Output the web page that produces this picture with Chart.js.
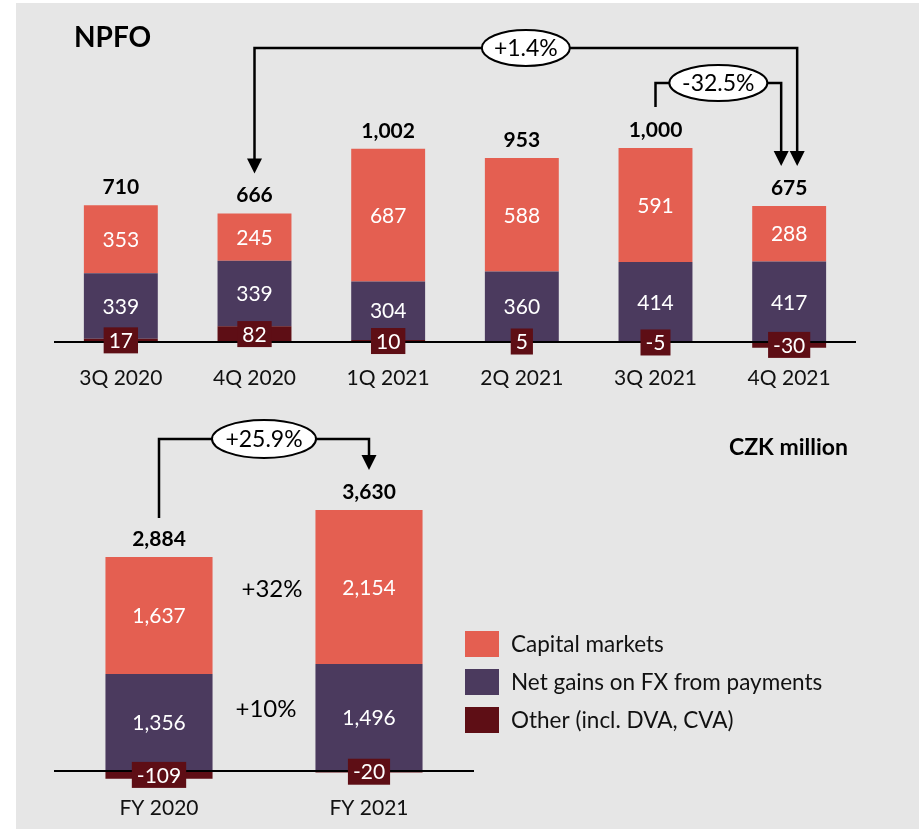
<!DOCTYPE html>
<html>
<head>
<meta charset="utf-8">
<script src="https://cdn.jsdelivr.net/npm/chart.js@4.4.1/dist/chart.umd.min.js"></script>
<style>
  body { margin: 0; background: #ffffff; }
  #wrap { position: relative; width: 920px; height: 829px; }
  #panel { position: absolute; left: 16px; top: 3px; width: 903px; height: 826px; background: #e6e6e6; }
  canvas { position: absolute; left: 0; }
  #quarterChart { top: 0; }
  #yearChart { top: 400px; }
</style>
</head>
<body>
<div id="wrap">
  <div id="panel"></div>
  <canvas id="quarterChart" width="920" height="400"></canvas>
  <canvas id="yearChart" width="920" height="429"></canvas>
</div>
<script>
// données
const quarterLabels = ["3Q 2020", "4Q 2020", "1Q 2021", "2Q 2021", "3Q 2021", "4Q 2021"];
const quarterCapital = [353, 245, 687, 588, 591, 288];
const quarterFx = [339, 339, 304, 360, 414, 417];
const quarterOther = [17, 82, 10, 5, -5, -30];
const quarterTotals = [710, 666, 1002, 953, 1000, 675];
const quarterChanges = ["+1.4%", "-32.5%"];

const yearLabels = ["FY 2020", "FY 2021"];
const yearCapital = [1637, 2154];
const yearFx = [1356, 1496];
const yearOther = [-109, -20];
const yearTotals = [2884, 3630];
const yearChange = "+25.9%";
const yearSegmentChanges = ["+32%", "+10%"];

const seriesNames = ["Other (incl. DVA, CVA)", "Net gains on FX from payments", "Capital markets"];
const seriesColors = ["#5e0e15", "#4b3a5e", "#e45f51"];

const FONT = "Lato, 'Open Sans', sans-serif";

function fmt(v) {
    return v.toLocaleString("en-US");
}

function buildDatasets(other, fx, capital) {
    return [other, fx, capital].map((values, i) => ({
        label: seriesNames[i],
        data: values,
        backgroundColor: seriesColors[i],
        borderWidth: 0
    }));
}

function arrowHead(ctx, x, y) {
    ctx.beginPath();
    ctx.moveTo(x - 7.5, y - 15);
    ctx.lineTo(x + 7.5, y - 15);
    ctx.lineTo(x, y);
    ctx.closePath();
    ctx.fill();
}

function connector(ctx, pts, headStart, headEnd) {
    ctx.save();
    ctx.strokeStyle = "#000";
    ctx.fillStyle = "#000";
    ctx.lineWidth = 2.5;
    ctx.beginPath();
    pts.forEach((p, i) => {
        const yy = (i === 0 && headStart) || (i === pts.length - 1 && headEnd) ? p[1] - 12 : p[1];
        if (i === 0) ctx.moveTo(p[0], yy); else ctx.lineTo(p[0], yy);
    });
    ctx.stroke();
    if (headStart) arrowHead(ctx, pts[0][0], pts[0][1]);
    if (headEnd) arrowHead(ctx, pts[pts.length - 1][0], pts[pts.length - 1][1]);
    ctx.restore();
}

function bubble(ctx, cx, cy, rx, ry, text) {
    ctx.save();
    ctx.beginPath();
    ctx.ellipse(cx, cy, rx, ry, 0, 0, Math.PI * 2);
    ctx.fillStyle = "#ffffff";
    ctx.fill();
    ctx.lineWidth = 2;
    ctx.strokeStyle = "#000";
    ctx.stroke();
    ctx.fillStyle = "#000";
    ctx.font = "23px " + FONT;
    ctx.textAlign = "center";
    ctx.textBaseline = "middle";
    ctx.fillText(text, cx, cy + 1);
    ctx.restore();
}

// plugin commun : ligne de base, valeurs, totaux, catégories
function barDecor(totals, labelY) {
    return {
        id: "barDecor",
        afterDatasetsDraw(chart) {
            const ctx = chart.ctx;
            const xs = chart.scales.x;
            const ys = chart.scales.y;
            const zero = ys.getPixelForValue(0);

            ctx.save();
            ctx.strokeStyle = "#000";
            ctx.lineWidth = 2;
            ctx.beginPath();
            ctx.moveTo(chart.chartArea.left, zero);
            ctx.lineTo(chart.chartArea.right, zero);
            ctx.stroke();

            ctx.textAlign = "center";
            ctx.textBaseline = "middle";

            // valeurs dans les segments
            [1, 2].forEach(d => {
                chart.getDatasetMeta(d).data.forEach((el, i) => {
                    ctx.fillStyle = "#ffffff";
                    ctx.font = "21px " + FONT;
                    ctx.fillText(fmt(chart.data.datasets[d].data[i]), el.x, (el.y + el.base) / 2 + 1);
                });
            });

            // autres : petites boîtes
            chart.getDatasetMeta(0).data.forEach((el, i) => {
                const txt = fmt(chart.data.datasets[0].data[i]);
                ctx.font = "21px " + FONT;
                const w = ctx.measureText(txt).width + 10;
                const cy = (el.y + el.base) / 2;
                ctx.fillStyle = seriesColors[0];
                ctx.fillRect(el.x - w / 2, cy - 13, w, 26);
                ctx.fillStyle = "#ffffff";
                ctx.fillText(txt, el.x, cy + 1);
            });

            // totaux et catégories
            chart.getDatasetMeta(2).data.forEach((el, i) => {
                ctx.fillStyle = "#000";
                ctx.font = "bold 21px " + FONT;
                ctx.fillText(fmt(totals[i]), el.x, el.y - 18);
                ctx.font = "21px " + FONT;
                ctx.fillStyle = "#111";
                ctx.fillText(chart.data.labels[i], xs.getPixelForValue(i), labelY);
            });
            ctx.restore();
        }
    };
}

const quarterNotes = {
    id: "quarterNotes",
    afterDraw(chart) {
        const ctx = chart.ctx;
        const xs = chart.scales.x;
        const tops = chart.getDatasetMeta(2).data.map(el => el.y);

        ctx.save();
        ctx.fillStyle = "#000";
        ctx.font = "bold 28px " + FONT;
        ctx.textAlign = "left";
        ctx.textBaseline = "middle";
        ctx.fillText("NPFO", 74, 38);
        ctx.restore();

        const x1 = xs.getPixelForValue(1);
        const x4 = xs.getPixelForValue(4);
        const x5 = xs.getPixelForValue(5);

        connector(ctx, [[x1, tops[1] - 40], [x1, 48], [x5 + 8, 48], [x5 + 8, tops[5] - 40]], true, true);
        bubble(ctx, (x1 + x5 + 8) / 2, 48, 44, 18, quarterChanges[0]);

        connector(ctx, [[x4, tops[4] - 41], [x4, 83], [x5 - 8, 83], [x5 - 8, tops[5] - 40]], false, true);
        bubble(ctx, (x4 + x5 - 8) / 2, 83, 49, 18, quarterChanges[1]);
    }
};

const yearNotes = {
    id: "yearNotes",
    afterDraw(chart) {
        const ctx = chart.ctx;
        const xs = chart.scales.x;
        const capMeta = chart.getDatasetMeta(2).data;
        const fxMeta = chart.getDatasetMeta(1).data;
        const x0 = xs.getPixelForValue(0);
        const x1 = xs.getPixelForValue(1);

        connector(ctx, [[x0, capMeta[0].y - 39], [x0, 39], [x1, 39], [x1, capMeta[1].y - 40]], false, true);
        bubble(ctx, (x0 + x1) / 2, 39, 52, 19, yearChange);

        ctx.save();
        ctx.fillStyle = "#000";
        ctx.textAlign = "center";
        ctx.textBaseline = "middle";
        ctx.font = "24px " + FONT;
        const mid = (x0 + x1) / 2;
        const capY = ((capMeta[0].y + capMeta[0].base) / 2 + (capMeta[1].y + capMeta[1].base) / 2) / 2 - 12;
        const fxY = ((fxMeta[0].y + fxMeta[0].base) / 2 + (fxMeta[1].y + fxMeta[1].base) / 2) / 2 - 11;
        ctx.fillText(yearSegmentChanges[0], mid + 8, capY);
        ctx.fillText(yearSegmentChanges[1], mid + 2, fxY);

        ctx.font = "bold 23px " + FONT;
        ctx.textAlign = "right";
        ctx.fillText("CZK million", 848, 48);

        // légende
        ctx.textAlign = "left";
        ctx.font = "22.5px " + FONT;
        [2, 1, 0].forEach((d, row) => {
            const y = 231 + row * 38;
            ctx.fillStyle = chart.data.datasets[d].backgroundColor;
            ctx.fillRect(465, y, 34, 26);
            ctx.fillStyle = "#111";
            ctx.fillText(chart.data.datasets[d].label, 511, y + 14);
        });
        ctx.restore();
    }
};

function baseOptions(min, max, pad, barPct) {
    return {
        responsive: false,
        animation: false,
        layout: { padding: pad },
        datasets: { bar: { barPercentage: barPct, categoryPercentage: 1 } },
        plugins: { legend: { display: false }, tooltip: { enabled: false } },
        scales: {
            x: { display: false, stacked: true },
            y: { display: false, stacked: true, min: min, max: max }
        }
    };
}

new Chart(document.getElementById("quarterChart"), {
    type: "bar",
    data: {
        labels: quarterLabels,
        datasets: buildDatasets(quarterOther, quarterFx, quarterCapital)
    },
    options: baseOptions(-50, 1150, { left: 54, right: 64, top: 120, bottom: 48.35 }, 0.553),
    plugins: [barDecor(quarterTotals, 378), quarterNotes]
});

new Chart(document.getElementById("yearChart"), {
    type: "bar",
    data: {
        labels: yearLabels,
        datasets: buildDatasets(yearOther, yearFx, yearCapital)
    },
    options: baseOptions(-200, 4000, { left: 54, right: 446, top: 85, bottom: 43.7 }, 0.51),
    plugins: [barDecor(yearTotals, 408), yearNotes]
});
</script>
</body>
</html>
